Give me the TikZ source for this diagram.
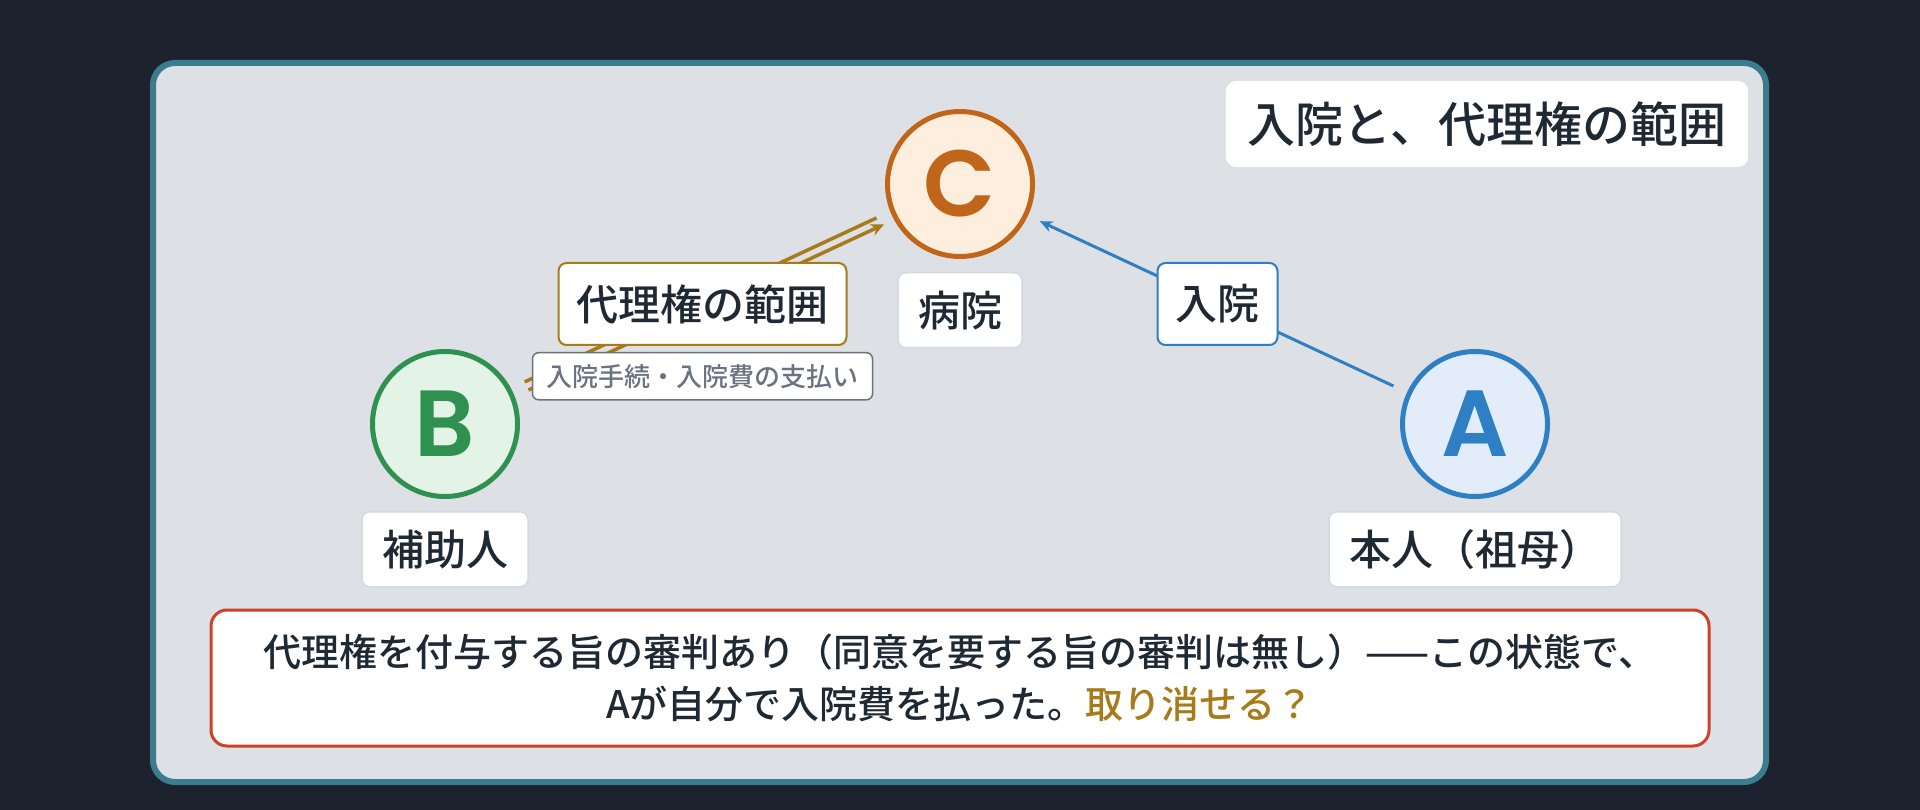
\documentclass[tikz,border=0pt]{standalone}
\usepackage{fontspec}
\setmainfont{Noto Sans CJK JP}[UprightFont=* Medium, BoldFont=* Bold]
\newfontfamily\letterfont{Poppins}[UprightFont=* SemiBold]
\usetikzlibrary{positioning, arrows.meta, calc}

\definecolor{pagebg}{HTML}{1D232E}
\definecolor{panelbg}{HTML}{DDE0E5}
\definecolor{panelline}{HTML}{3B7D8C}
\definecolor{ink}{HTML}{1F2933}
\definecolor{boxline}{HTML}{D3DAE4}
\definecolor{cline}{HTML}{C0651A}
\definecolor{cfill}{HTML}{FDEEDD}
\definecolor{bline}{HTML}{2E9150}
\definecolor{bfill}{HTML}{E3F4E7}
\definecolor{aline}{HTML}{2F7FC4}
\definecolor{afill}{HTML}{E3EDF9}
\definecolor{authc}{HTML}{A77A1A}
\definecolor{tagc}{HTML}{6B7280}
\definecolor{qline}{HTML}{CC4229}

\begin{document}
\begin{tikzpicture}[x=1pt,y=-1pt,
		person/.style={circle,minimum size=145pt,line width=5pt,inner sep=0pt,font=\letterfont\fontsize{94}{94}\selectfont},
		namebox/.style={draw=boxline,line width=1.5pt,fill=white,rounded corners=8pt,minimum height=75pt,inner xsep=20pt,text=ink,font=\fontsize{42}{42}\selectfont},
		edgebox/.style={namebox,line width=2pt,minimum height=82pt,inner xsep=18pt},
		tagbox/.style={draw=tagc,line width=1.5pt,fill=white,rounded corners=6pt,minimum height=47pt,inner xsep=14pt,text=tagc,font=\fontsize{26}{26}\selectfont},
		admit/.style={draw=aline,line width=3pt,shorten <=15pt,shorten >=13pt,-{Stealth[length=13pt,width=11pt]}},
		auth/.style={draw=authc,line width=3.5pt,shorten <=90pt}]
	\useasboundingbox (0,0) rectangle (1920,810);
	\fill[pagebg] (0,0) rectangle (1920,810);
	\draw[line width=6pt,draw=panelline,fill=panelbg,rounded corners=22pt] (153,63) rectangle (1766,782);

	% parties
	\node[person,draw=cline,fill=cfill,text=cline] (C) at (960,184) {C};
	\node[person,draw=bline,fill=bfill,text=bline] (B) at (445,424) {B};
	\node[person,draw=aline,fill=afill,text=aline] (A) at (1475,424) {A};
	\node[namebox,below=13pt of C] (hosp) {病院};
	\node[namebox,below=12pt of B] (helper) {補助人};
	\node[namebox,below=12pt of A] (self) {本人（祖母）};

	% A -> C
	\draw[admit] (A) -- node[edgebox,draw=aline] (adm) {入院} (C);

	% B => C
	\draw[auth,shorten >=90pt] ($(B)!4.5pt!90:(C)$) -- ($(C)!4.5pt!-90:(B)$);
	\draw[auth,shorten >=86pt,-{Stealth[length=13pt,width=12pt]}] ($(B)!4.5pt!-90:(C)$) -- ($(C)!4.5pt!90:(B)$);
	\path (B) -- node[edgebox,draw=authc] (range) {代理権の範囲} (C);
	\node[tagbox,below=6pt of range] (task) {入院手続・入院費の支払い};

	\node[fill=white,rounded corners=10pt,minimum height=86pt,inner xsep=22pt,text=ink,font=\fontsize{48}{48}\selectfont] (title) at (1487,124) {入院と、代理権の範囲};

	\node[draw=qline,line width=3pt,fill=white,rounded corners=16pt,minimum width=1498pt,minimum height=136pt,align=center,text=ink,font=\fontsize{38}{52}\selectfont] (q) at (960,678)
		{代理権を付与する旨の審判あり（同意を要する旨の審判は無し）——この状態で、\\Aが自分で入院費を払った。\textcolor{authc}{取り消せる？}};
\end{tikzpicture}
\end{document}
